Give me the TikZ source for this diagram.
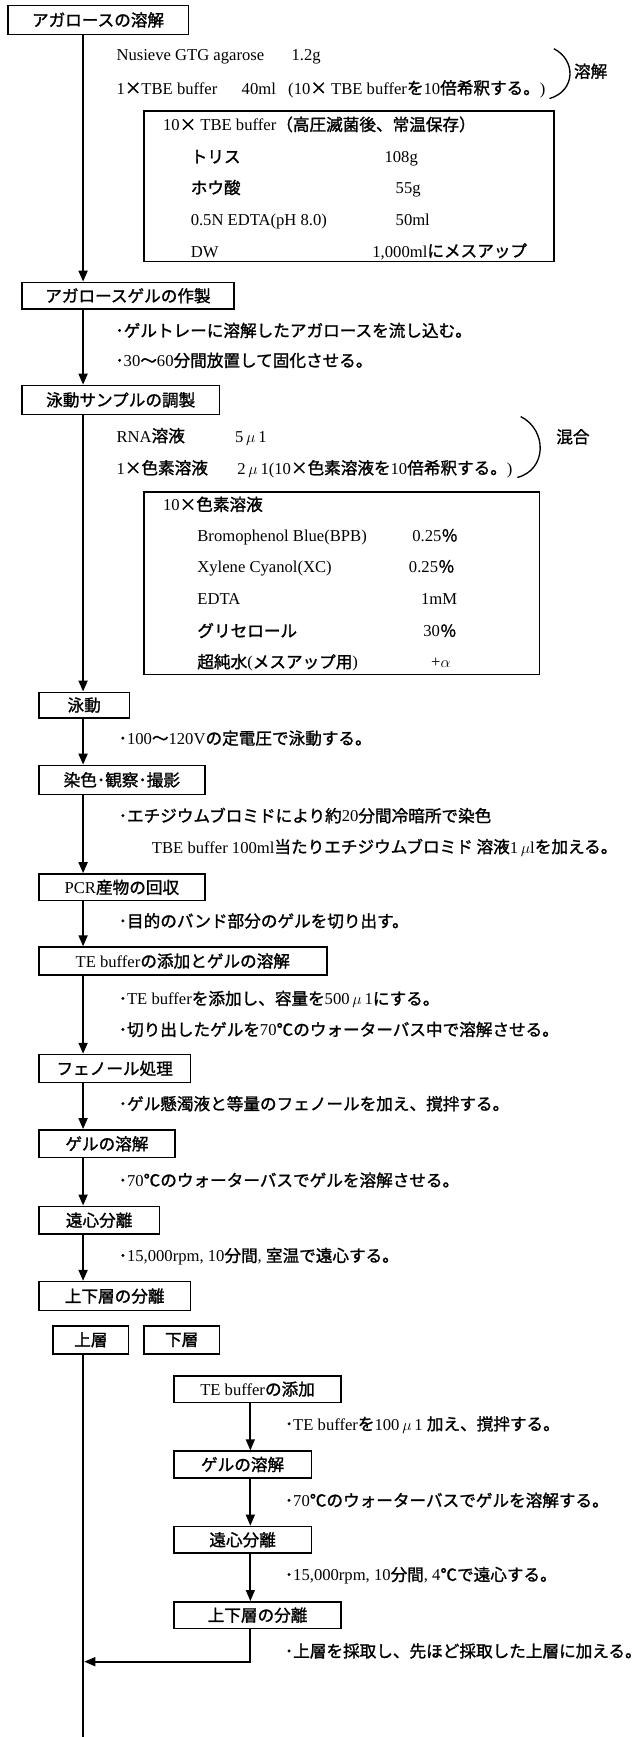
\documentclass[tikz,border=0pt]{standalone}
\usepackage{fontspec}
\setmainfont{Liberation Serif}
\newfontfamily\jp{Noto Sans CJK JP}[FakeBold=1.4]
\usetikzlibrary{arrows.meta}
\newcommand{\J}[1]{{\jp #1}}
\newcommand{\fs}{\fontsize{15bp}{18bp}\selectfont}
\tikzset{
 box/.style={draw, line width=1.4bp, inner sep=0pt, align=center, font=\fs},
 txt/.style={anchor=west, inner sep=0pt, text height=11bp, text depth=3bp, font=\fs},
 flow/.style={line width=2bp, -{Triangle[length=10bp,width=8bp]}},
 subflow/.style={line width=1.6bp, -{Triangle[length=10bp,width=8bp]}},
 mainline/.style={line width=2bp},
 brk/.style={line width=1.2bp},
}
\begin{document}
\begin{tikzpicture}[x=1bp,y=-1bp]
\useasboundingbox (0,0) rectangle (578,1568);
\coordinate (ax) at (75,0);
\coordinate (sx) at (226,0);
% step 1
\node[box,minimum width=163bp,minimum height=26bp] (b1) at (88.5,18) {\J{アガロースの溶解}};
\node[txt] (t1a) at (105,51) {Nusieve GTG agarose};
\node[txt] (t1b) at (263,51) {1.2g};
\node[txt] (t2a) at (105,81) {1\J{×}TBE buffer};
\node[txt] (t2b) at (218,81) {40ml};
\node[txt] (t2c) at (260,81) {(10\J{×} TBE buffer\J{を}10\J{倍希釈する。})};
\draw[brk] (500,44) .. controls (520,54) and (520,82) .. (496,89);
\node[txt] (t3) at (518,66) {\J{溶解}};
\node[box,minimum width=370bp,minimum height=136bp] (in1) at (315,168) {};
\node[txt] (h1) at (147,114) {10\J{×} TBE buffer\J{（高圧滅菌後、常温保存）}};
\node[txt] (r1a) at (172,143) {\J{トリス}};
\node[txt] (r1b) at (347,143) {108g};
\node[txt] (r2a) at (172,171) {\J{ホウ酸}};
\node[txt] (r2b) at (357,171) {55g};
\node[txt] (r3a) at (172,200) {0.5N EDTA(pH 8.0)};
\node[txt] (r3b) at (357,200) {50ml};
\node[txt] (r4a) at (172,228) {DW};
\node[txt] (r4b) at (336,228) {1,000ml\J{にメスアップ}};
% step 2
\node[box,minimum width=191bp,minimum height=24bp] (b2) at (115.5,267) {\J{アガロースゲルの作製}};
\node[txt] (s2a) at (104,300) {\J{･ゲルトレーに溶解したアガロースを流し込む。}};
\node[txt] (s2b) at (104,327) {\J{･}30\J{～}60\J{分間放置して固化させる。}};
% step 3
\node[box,minimum width=178bp,minimum height=26bp] (b3) at (109,361) {\J{泳動サンプルの調製}};
\node[txt] (s3a) at (105,395) {RNA\J{溶液}};
\node[txt] (s3b) at (212,395) {5\,$\mu$\,1};
\node[txt] (s3c) at (105,424) {1\J{×色素溶液}};
\node[txt] (s3d) at (214,424) {2\,$\mu$\,1(10\J{×色素溶液を}10\J{倍希釈する。})};
\draw[brk] (470,376) .. controls (494,388) and (494,424) .. (467,431);
\node[txt] (s3e) at (502,396) {\J{混合}};
\node[box,minimum width=357bp,minimum height=165bp] (in2) at (308.5,526.5) {};
\node[txt] (h2) at (147,457) {10\J{×色素溶液}};
\node[txt] (q1a) at (178,485) {Bromophenol Blue(BPB)};
\node[txt] (q1b) at (372,485) {0.25\J{％}};
\node[txt] (q2a) at (178,513) {Xylene Cyanol(XC)};
\node[txt] (q2b) at (369,513) {0.25\J{％}};
\node[txt] (q3a) at (178,542) {EDTA};
\node[txt] (q3b) at (380,542) {1mM};
\node[txt] (q4a) at (178,571) {\J{グリセロール}};
\node[txt] (q4b) at (382,571) {30\J{％}};
\node[txt] (q5a) at (178,599) {\J{超純水}(\J{メスアップ用})};
\node[txt] (q5b) at (389,599) {+$\alpha$};
% step 4
\node[box,minimum width=82bp,minimum height=23bp] (b4) at (76,636.5) {\J{泳動}};
\node[txt] (s4) at (107,668) {\J{･}100\J{～}120V\J{の定電圧で泳動する。}};
% step 5
\node[box,minimum width=150bp,minimum height=26bp] (b5) at (110,704) {\J{染色･観察･撮影}};
\node[txt] (s5a) at (107,738) {\J{･エチジウムブロミドにより約}20\J{分間冷暗所で染色}};
\node[txt] (s5b) at (137,766) {TBE buffer 100ml\J{当たりエチジウムブロミド 溶液}1\,$\mu$l\J{を加える。}};
% step 6
\node[box,minimum width=150bp,minimum height=24bp] (b6) at (110,801) {PCR\J{産物の回収}};
\node[txt] (s6) at (107,833) {\J{･目的のバンド部分のゲルを切り出す。}};
% step 7
\node[box,minimum width=260bp,minimum height=25bp] (b7) at (165,867.5) {TE buffer\J{の添加とゲルの溶解}};
\node[txt] (s7a) at (107,903) {\J{･}TE buffer\J{を添加し、容量を}500\,$\mu$\,1\J{にする。}};
\node[txt] (s7b) at (107,931) {\J{･切り出したゲルを}70\J{℃のウォーターバス中で溶解させる。}};
% step 8
\node[box,minimum width=137bp,minimum height=25bp] (b8) at (103.5,964.5) {\J{フェノール処理}};
\node[txt] (s8) at (107,998) {\J{･ゲル懸濁液と等量のフェノールを加え、撹拌する。}};
% step 9
\node[box,minimum width=123bp,minimum height=25bp] (b9) at (96.5,1032.5) {\J{ゲルの溶解}};
\node[txt] (s9) at (107,1067) {\J{･}70\J{℃のウォーターバスでゲルを溶解させる。}};
% step 10
\node[box,minimum width=109bp,minimum height=25bp] (b10) at (89.5,1101.5) {\J{遠心分離}};
\node[txt] (s10) at (107,1135) {\J{･}15,000rpm, 10\J{分間}, \J{室温で遠心する。}};
% step 11
\node[box,minimum width=137bp,minimum height=26bp] (b11) at (103.5,1170) {\J{上下層の分離}};
\node[box,minimum width=68bp,minimum height=25bp] (b12) at (82,1209.5) {\J{上層}};
\node[box,minimum width=68bp,minimum height=25bp] (b13) at (164,1209.5) {\J{下層}};
% sub chain
\node[box,minimum width=151bp,minimum height=24bp] (b14) at (232.5,1254) {TE buffer\J{の添加}};
\node[txt] (u1) at (257,1287) {\J{･}TE buffer\J{を}100\,$\mu$\,1 \J{加え、撹拌する。}};
\node[box,minimum width=124bp,minimum height=24bp] (b15) at (219,1322) {\J{ゲルの溶解}};
\node[txt] (u2) at (257,1356) {\J{･}70\J{℃のウォーターバスでゲルを溶解する。}};
\node[box,minimum width=124bp,minimum height=24bp] (b16) at (219,1390) {\J{遠心分離}};
\node[txt] (u3) at (257,1423) {\J{･}15,000rpm, 10\J{分間}, 4\J{℃で遠心する。}};
\node[box,minimum width=151bp,minimum height=24bp] (b17) at (232.5,1458) {\J{上下層の分離}};
\node[txt] (u4) at (257,1492) {\J{･上層を採取し、先ほど採取した上層に加える。}};
% connectors
\draw[flow] (b1.south -| ax) -- (b2.north -| ax);
\draw[flow] (b2.south -| ax) -- (b3.north -| ax);
\draw[flow] (b3.south -| ax) -- (b4.north -| ax);
\draw[flow] (b4.south -| ax) -- (b5.north -| ax);
\draw[flow] (b5.south -| ax) -- (b6.north -| ax);
\draw[flow] (b6.south -| ax) -- (b7.north -| ax);
\draw[flow] (b7.south -| ax) -- (b8.north -| ax);
\draw[flow] (b8.south -| ax) -- (b9.north -| ax);
\draw[flow] (b9.south -| ax) -- (b10.north -| ax);
\draw[flow] (b10.south -| ax) -- (b11.north -| ax);
\coordinate (bot) at (75,1568);
\draw[mainline] (b12.south -| ax) -- (bot);
\draw[subflow] (b14.south -| sx) -- (b15.north -| sx);
\draw[subflow] (b15.south -| sx) -- (b16.north -| sx);
\draw[subflow] (b16.south -| sx) -- (b17.north -| sx);
\coordinate (jn) at (76,1500);
\draw[subflow] (b17.south -| sx) -- (sx |- jn) -- (jn);
\end{tikzpicture}
\end{document}
